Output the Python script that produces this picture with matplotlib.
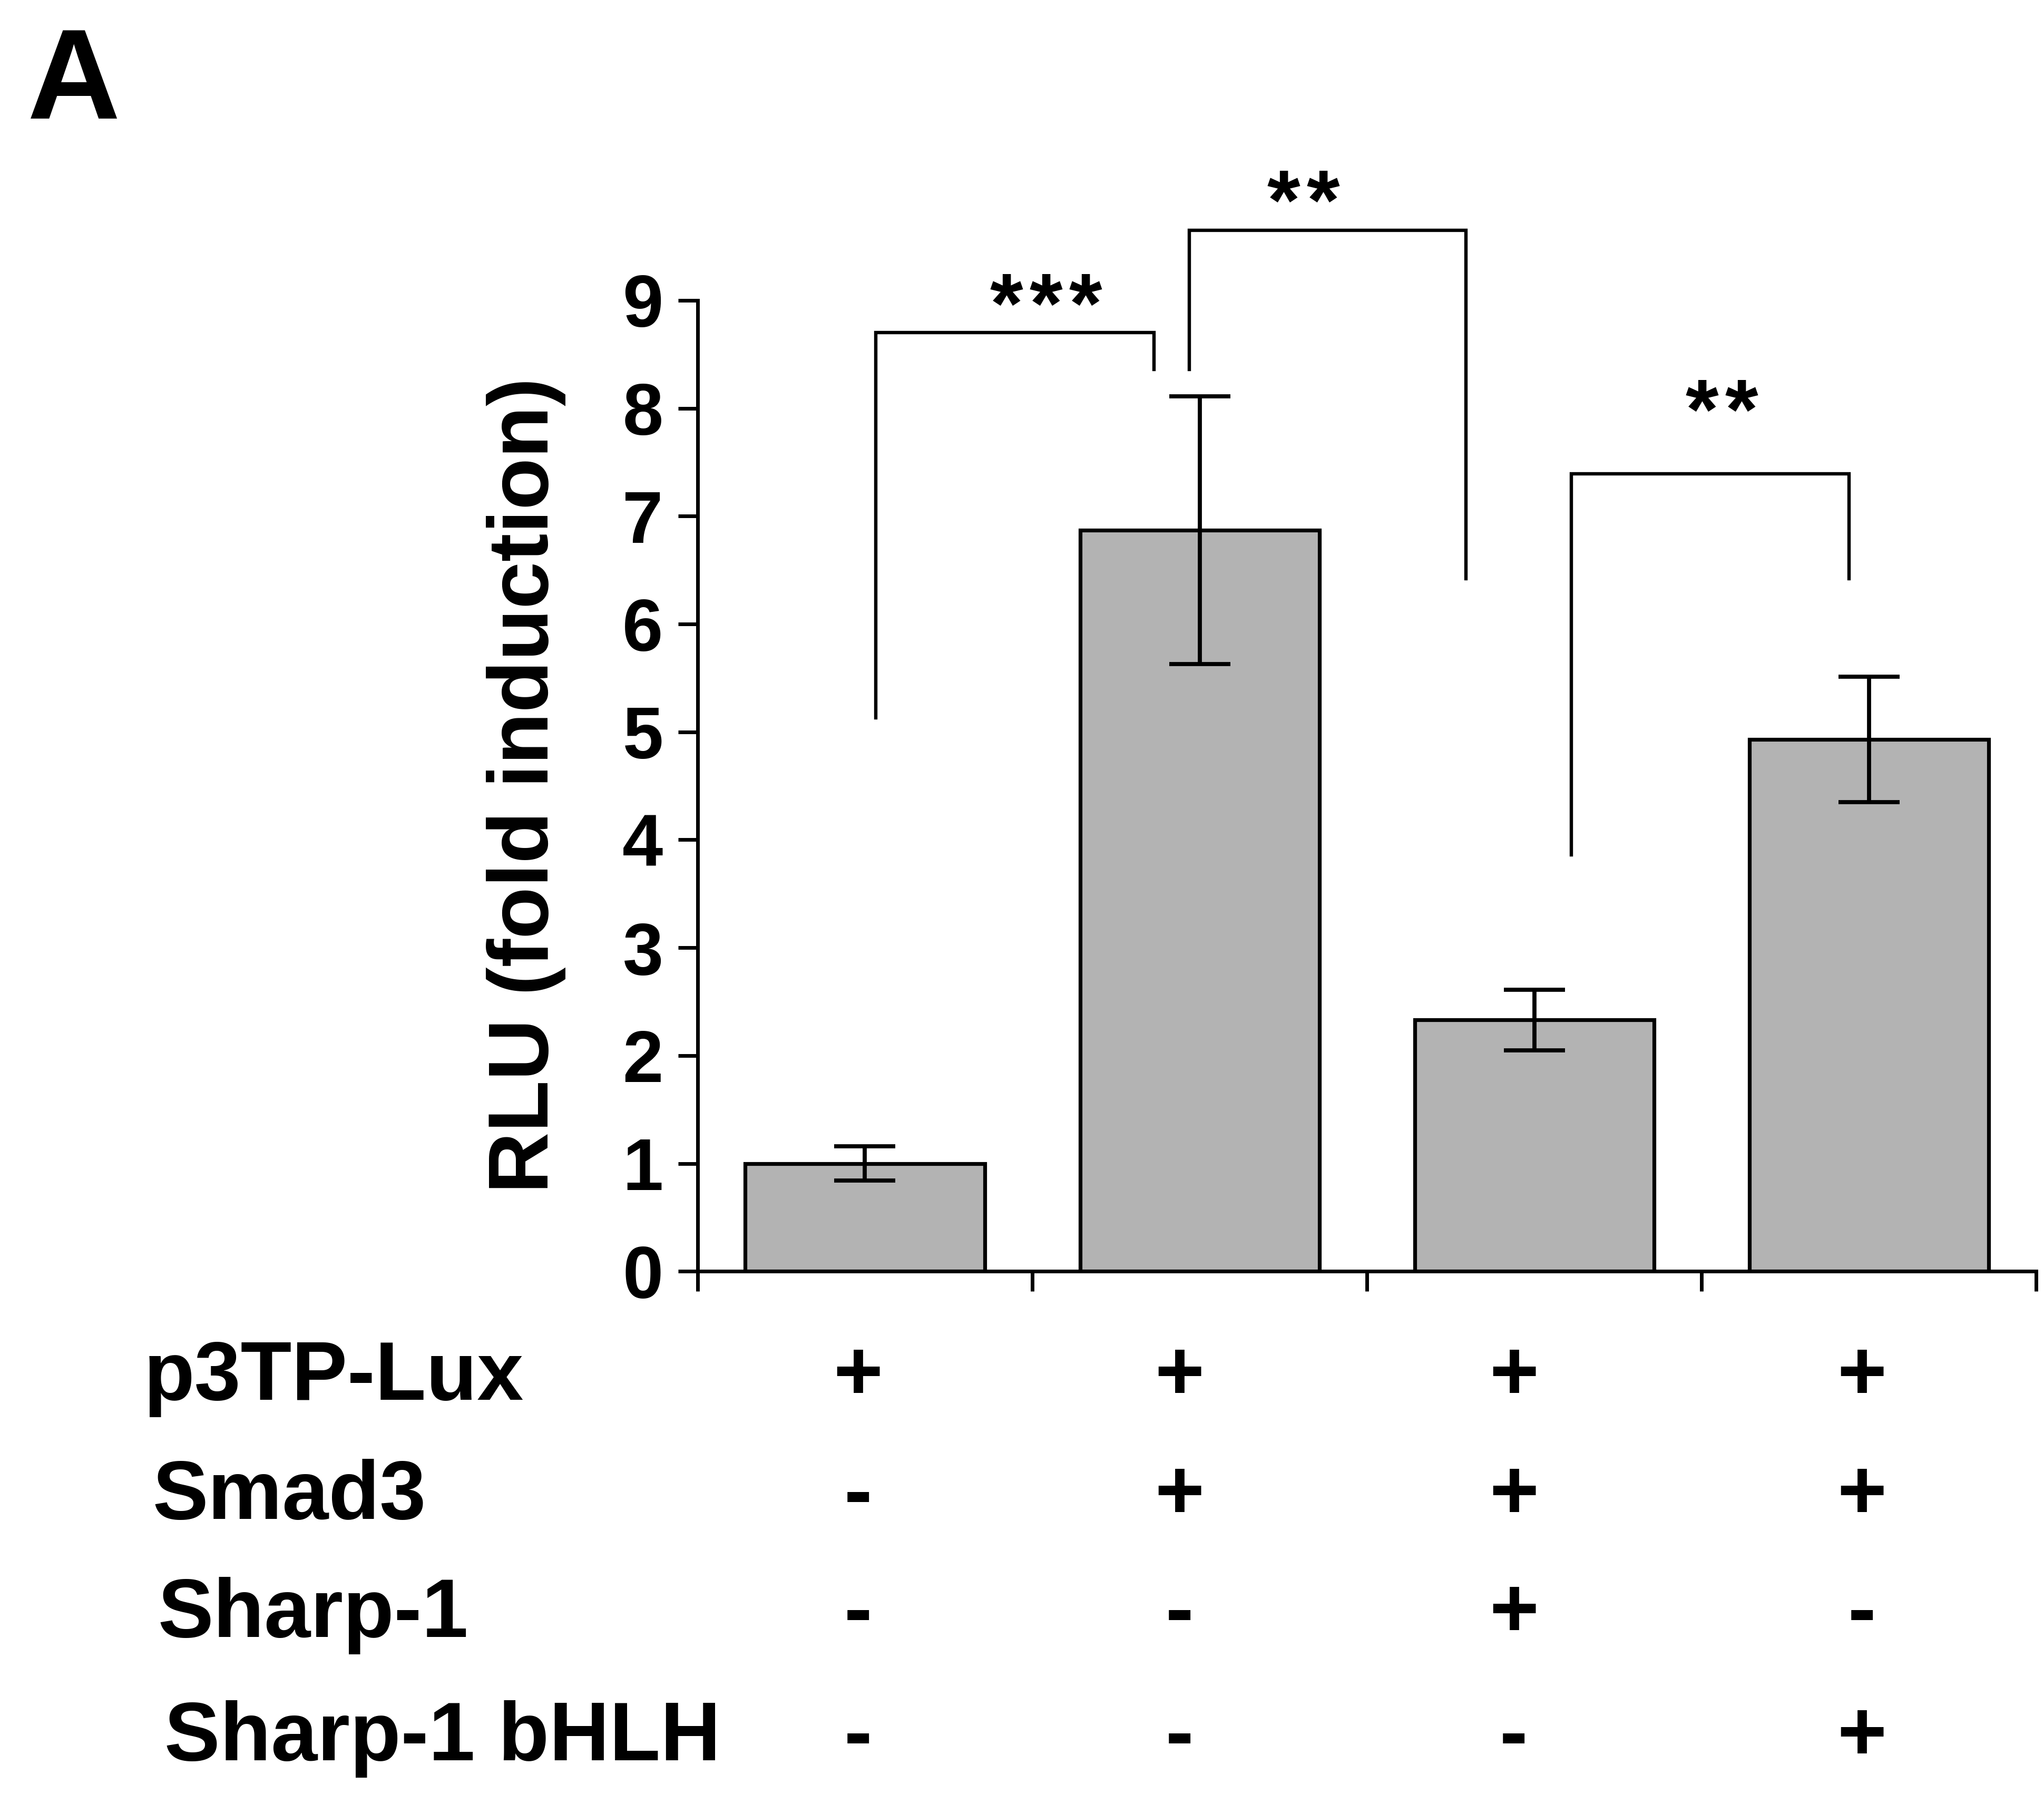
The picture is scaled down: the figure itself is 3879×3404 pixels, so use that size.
import matplotlib
matplotlib.use("Agg")
from matplotlib import pyplot as plt
from matplotlib import transforms

plt.rcParams['font.family'] = ['Liberation Sans', 'DejaVu Sans']
plt.rcParams['font.weight'] = 'bold'

# values
values = [1.0, 6.87, 2.33, 4.93]
errors = [0.16, 1.24, 0.28, 0.58]

row_names = ["p3TP-Lux", "Smad3", "Sharp-1", "Sharp-1 bHLH"]
row_signs = [["+", "+", "+", "+"],
             ["-", "+", "+", "+"],
             ["-", "-", "+", "-"],
             ["-", "-", "-", "+"]]

# significance brackets: left x, left foot, top, right x, right foot, label, label x, label y
brackets = [(0.032, 5.13, 8.70, 0.863, 8.36, "***", 0.54, 8.70),
            (0.969, 8.36, 9.65, 1.796, 6.42, "**", 1.31, 9.66),
            (2.110, 3.86, 7.39, 2.940, 6.42, "**", 2.56, 7.72)]

fig = plt.figure(figsize=(19.4, 17.02), dpi=200)
ax = fig.add_axes([0.3412, 0.2913, 0.6548, 0.5413])

x = list(range(len(values)))
ax.bar(x, values, width=0.715, color='#b3b3b3', edgecolor='black', linewidth=2.6, zorder=2)
ax.errorbar(x, values, yerr=errors, fmt='none', ecolor='black', elinewidth=2.8,
            capsize=21, capthick=2.8, zorder=3)

ax.set_xlim(-0.5, 3.5)
ax.set_ylim(0, 9)
ax.spines['top'].set_visible(False)
ax.spines['right'].set_visible(False)
ax.spines['left'].set_linewidth(2.5)
ax.spines['bottom'].set_linewidth(2.5)
ax.set_xticks([-0.5, 0.5, 1.5, 2.5, 3.5])
ax.set_xticklabels([])
ax.set_yticks(range(10))
ax.tick_params(axis='both', direction='out', length=13.5, width=2.5, colors='black')
ax.tick_params(axis='y', labelsize=50, pad=10)
for lab in ax.get_yticklabels():
    lab.set_fontweight('bold')

star_gap = 27  # points between star centres
for xl, yl, yt, xr, yr, txt, tx, ty in brackets:
    ax.plot([xl, xl, xr, xr], [yl, yt, yt, yr], color='black', lw=2.3,
            clip_on=False, solid_joinstyle='miter')
    n = len(txt)
    for k, ch in enumerate(txt):
        ax.annotate(ch, (tx, ty), xytext=((k - (n - 1) / 2) * star_gap, 0),
                    textcoords='offset points', ha='center', va='baseline',
                    fontsize=58, fontweight='bold', annotation_clip=False)

fig.text(0.2573, 0.5621, "RLU (fold induction)", rotation=90, ha='center',
         va='center', fontsize=58, fontweight='bold')

fig.text(0.0134, 0.9339, "A", fontsize=88, fontweight='bold', va='baseline')

# treatment table below the axis
label_x = [0.0702, 0.0746, 0.0772, 0.0804]
label_y = [0.2198, 0.1533, 0.0876, 0.0189]
col_shift = [-0.021, -0.06, -0.061, -0.021]
trans = transforms.blended_transform_factory(ax.transData, fig.transFigure)
for r, name in enumerate(row_names):
    fig.text(label_x[r], label_y[r], name, fontsize=57, fontweight='bold',
             ha='left', va='baseline')
    for c, s in enumerate(row_signs[r]):
        fig.text(c + col_shift[c], label_y[r], s, fontsize=58, fontweight='bold',
                 ha='center', va='baseline', transform=trans)

fig.savefig("out.png", dpi=200)
